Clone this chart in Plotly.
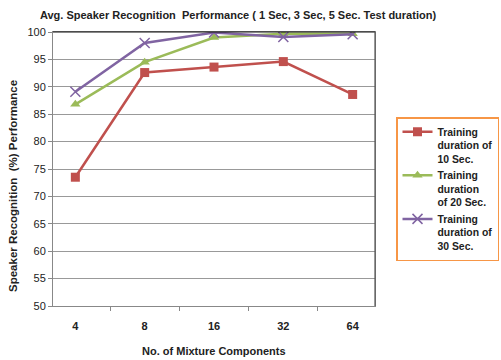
import plotly.graph_objects as go

categories = ["4", "8", "16", "32", "64"]
train_10 = [73.5, 92.6, 93.6, 94.6, 88.6]
train_20 = [86.8, 94.5, 99.0, 99.7, 99.7]
train_30 = [89.1, 98.0, 99.9, 99.1, 99.6]
names = ["<b>Training<br>duration of<br>10 Sec.</b>", "<b>Training<br>duration<br>of 20 Sec.</b>", "<b>Training<br>duration of<br>30 Sec.</b>"]
y_ticks = [50, 55, 60, 65, 70, 75, 80, 85, 90, 95, 100]

FONT = "Liberation Sans"

fig = go.Figure()
fig.add_trace(go.Scatter(x=categories, y=train_10, name=names[0], mode="lines+markers",
                         line=dict(color="#C0504D", width=2.5),
                         marker=dict(symbol="square", size=9, color="#C0504D")))
fig.add_trace(go.Scatter(x=categories, y=train_20, name=names[1], mode="lines+markers",
                         line=dict(color="#9BBB59", width=2.5),
                         marker=dict(symbol="triangle-up", size=9, color="#9BBB59")))
fig.add_trace(go.Scatter(x=categories, y=train_30, name=names[2], mode="lines+markers",
                         line=dict(color="#8064A2", width=2.5),
                         marker=dict(symbol="x-thin-open", size=10, color="#8064A2",
                                     line=dict(color="#8064A2", width=1.5))))

fig.update_layout(
    width=501, height=360,
    margin=dict(l=53, r=126, t=32, b=54),
    paper_bgcolor="white", plot_bgcolor="white",
    font=dict(family=FONT, size=11, color="#222"),
    title=dict(text="<b>Avg. Speaker Recognition  Performance ( 1 Sec, 3 Sec, 5 Sec. Test duration)</b>",
               x=238/501, xanchor="center", xref="container",
               y=1-15/360, yanchor="middle", yref="container",
               font=dict(family=FONT, size=11, color="#222")),
    legend=dict(xref="container", yref="container", x=396/501, y=1-117/360,
                xanchor="left", yanchor="top", bgcolor="white",
                bordercolor="#F79646", borderwidth=1.5,
                font=dict(family=FONT, size=10.4, color="#222"),
                valign="top", tracegroupgap=0, itemwidth=30),
    showlegend=True,
    annotations=[
        dict(text="<b>Speaker Recognition  (%) Performance</b>", xref="paper", yref="paper",
             x=-13/322*1 - 27/322, y=(306-186)/274, xanchor="center", yanchor="middle",
             textangle=-90, showarrow=False, font=dict(family=FONT, size=11.5, color="#222")),
        dict(text="<b>No. of Mixture Components</b>", xref="paper", yref="paper",
             x=(214-53)/322, y=-(351-306)/274, xanchor="center", yanchor="middle",
             showarrow=False, font=dict(family=FONT, size=11, color="#222")),
    ],
    shapes=[
        dict(type="line", xref="paper", yref="paper", x0=0, x1=1, y0=1, y1=1,
             line=dict(color="#111", width=1.2)),
        dict(type="line", xref="paper", yref="paper", x0=1, x1=1, y0=0, y1=1,
             line=dict(color="#555", width=1.2)),
    ],
)
fig.update_xaxes(type="category", categoryorder="array", categoryarray=categories,
                 showline=True, linecolor="#888", linewidth=1, mirror=True,
                 ticks="outside", tickson="boundaries", ticklen=4, tickcolor="#888",
                 showgrid=False, ticklabelstandoff=10,
                 tickprefix="<b>", ticksuffix="</b>",
                 tickfont=dict(family=FONT, size=11, color="#222"))
fig.update_yaxes(range=[50, 100], tickvals=y_ticks,
                 tickprefix="<b>", ticksuffix="</b>",
                 showline=True, linecolor="#888", linewidth=1, mirror=True,
                 ticks="outside", ticklen=4, tickcolor="#888",
                 showgrid=True, gridcolor="#999", gridwidth=1,
                 tickfont=dict(family=FONT, size=11, color="#222"))

fig.write_html("out.html")
